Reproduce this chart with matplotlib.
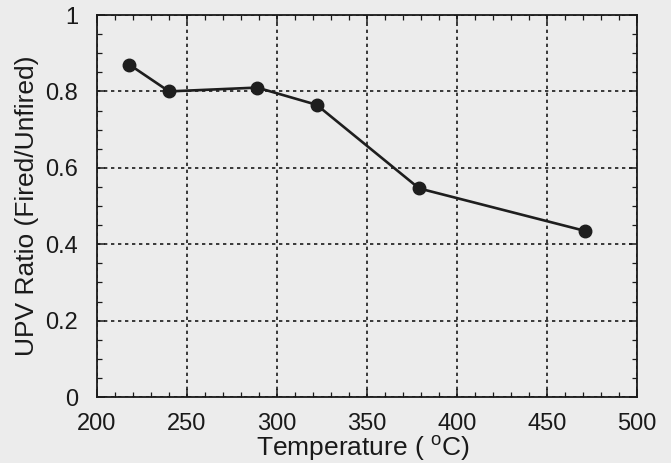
import matplotlib
matplotlib.use("Agg")
import matplotlib.pyplot as plt
from matplotlib.ticker import MultipleLocator

plt.rcParams['font.family'] = ['Liberation Sans', 'DejaVu Sans']
plt.rcParams['mathtext.fontset'] = 'custom'
plt.rcParams['mathtext.rm'] = 'Liberation Sans'
plt.rcParams['mathtext.it'] = 'Liberation Sans'

# Exposure temperature (deg C) and UPV ratio after firing
temperature = [218, 240, 289, 322, 379, 471]
upv_ratio = [0.87, 0.80, 0.81, 0.765, 0.546, 0.435]

x_ticks = [200, 250, 300, 350, 400, 450, 500]
y_ticks = [0, 0.2, 0.4, 0.6, 0.8, 1]
y_tick_labels = ['0', '0.2', '0.4', '0.6', '0.8', '1']

bg = '#ececec'
fig = plt.figure(figsize=(6.71, 4.63), dpi=100, facecolor=bg)
ax = fig.add_axes([0.1446, 0.1425, 0.8047, 0.8251], facecolor=bg)

ax.plot(temperature, upv_ratio, color='#1e1e1e', lw=1.9, marker='o',
        markersize=9, markerfacecolor='#1e1e1e', markeredgecolor='#1e1e1e',
        zorder=3)

ax.set_xlim(200, 500)
ax.set_ylim(0, 1)
ax.set_xticks(x_ticks)
ax.set_yticks(y_ticks)
ax.set_yticklabels(y_tick_labels)
ax.xaxis.set_minor_locator(MultipleLocator(10))
ax.yaxis.set_minor_locator(MultipleLocator(0.05))

ax.grid(True, which='major', color='#1a1a1a', lw=1.2, linestyle=(0, (2, 2.2)))

for s in ax.spines.values():
    s.set_linewidth(1.3)
    s.set_color('#1a1a1a')

ax.tick_params(which='both', direction='in', top=True, right=True,
               colors='#1a1a1a', labelsize=17)
ax.tick_params(which='major', length=6, width=1.1)
ax.tick_params(which='minor', length=3.5, width=0.9)
ax.tick_params(axis='x', pad=11.5)
ax.tick_params(axis='y', pad=13.5)

xl = ax.set_xlabel('Temperature ( $^{\\rm o}$C)', fontsize=19, color='#1a1a1a')
xl.set_va('baseline')
ax.xaxis.set_label_coords(0.493, -0.153)

yl = ax.set_ylabel('UPV Ratio (Fired/Unfired)', fontsize=19, color='#1a1a1a')
yl.set_va('center')
ax.yaxis.set_label_coords(-(97 - 27) / 540, 0.5)

fig.savefig('out.png', dpi=100, facecolor=bg)
